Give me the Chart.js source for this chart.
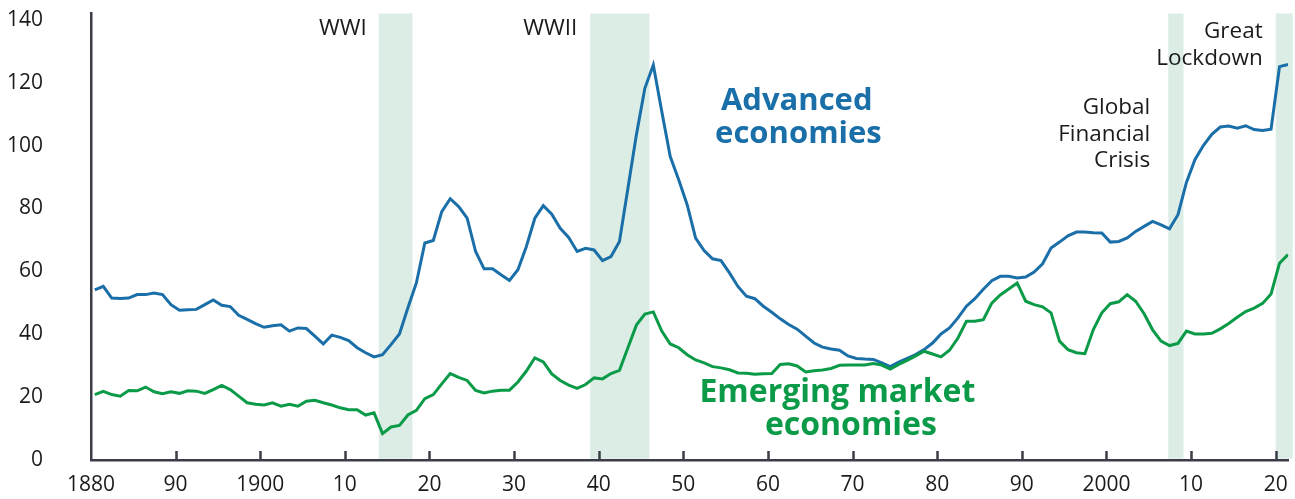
<!DOCTYPE html>
<html>
<head>
<meta charset="utf-8">
<script src="https://cdn.jsdelivr.net/npm/chart.js@4.4.1/dist/chart.umd.min.js"></script>
<style>
  body { margin: 0; background: #fff; }
  canvas { display: block; }
</style>
</head>
<body>
<canvas id="debtChart" width="1295" height="499"></canvas>
<script>
// Anos (1880-2021)
const years = [];
for (let y = 1880; y <= 2021; y++) years.push(y);

// Dívida pública, % do PIB - economias avançadas
const advanced = [
  54.1, 55.2, 51.5, 51.4, 51.5, 52.6, 52.6, 53.1, 52.6, 49.4,
  47.6, 47.8, 47.9, 49.4, 50.9, 49.2, 48.8, 46.0, 44.7, 43.4,
  42.2, 42.7, 43.0, 41.0, 42.0, 41.8, 39.4, 36.9, 39.7, 39.0,
  38.0, 35.7, 34.1, 32.8, 33.5, 36.7, 40.1, 48.4, 56.3, 69.0,
  69.8, 79.0, 83.1, 80.6, 76.9, 66.3, 60.8, 60.8, 58.9, 57.1,
  60.5, 67.9, 76.9, 80.9, 78.2, 73.7, 70.8, 66.3, 67.3, 66.8,
  63.4, 64.7, 69.5, 86.4, 103.4, 118.2, 125.6, 110.8, 96.5, 89.1,
  81.2, 70.6, 66.6, 64.0, 63.4, 59.5, 55.2, 52.1, 51.3, 48.9,
  47.0, 44.9, 43.1, 41.6, 39.4, 37.2, 35.9, 35.3, 34.9, 33.1,
  32.3, 32.1, 32.0, 30.9, 29.7, 31.1, 32.3, 33.5, 35.1, 37.2,
  40.1, 42.0, 45.2, 48.9, 51.3, 54.3, 57.0, 58.4, 58.4, 57.9,
  58.2, 59.8, 62.4, 67.4, 69.3, 71.3, 72.5, 72.5, 72.3, 72.2,
  69.3, 69.5, 70.6, 72.7, 74.3, 75.9, 74.8, 73.5, 78.0, 88.3,
  95.5, 100.0, 103.6, 105.9, 106.2, 105.5, 106.3, 105.1, 104.8, 105.2,
  125.1, 125.8
];

// Dívida pública, % do PIB - economias emergentes
const emerging = [
  20.8, 21.8, 20.8, 20.3, 22.1, 22.0, 23.2, 21.7, 21.1, 21.7,
  21.2, 22.0, 21.9, 21.2, 22.4, 23.7, 22.4, 20.3, 18.2, 17.7,
  17.5, 18.2, 17.1, 17.7, 17.1, 18.7, 19.0, 18.2, 17.5, 16.6,
  16.0, 16.0, 14.3, 15.0, 8.4, 10.5, 11.0, 14.3, 15.8, 19.5,
  20.8, 24.2, 27.5, 26.3, 25.3, 22.1, 21.3, 21.9, 22.2, 22.2,
  24.8, 28.3, 32.5, 31.2, 27.4, 25.3, 23.8, 22.8, 24.0, 26.1,
  25.8, 27.5, 28.5, 35.7, 42.9, 46.4, 47.1, 41.0, 36.9, 35.7,
  33.5, 31.8, 30.9, 29.7, 29.3, 28.7, 27.7, 27.6, 27.3, 27.4,
  27.5, 30.4, 30.6, 29.9, 28.0, 28.4, 28.6, 29.1, 30.1, 30.2,
  30.2, 30.2, 30.7, 30.2, 28.9, 30.4, 31.7, 33.1, 34.6, 33.7,
  32.8, 34.9, 38.8, 44.1, 44.1, 44.6, 49.9, 52.5, 54.4, 56.3,
  50.5, 49.4, 48.7, 46.8, 37.8, 35.1, 34.1, 33.8, 41.5, 46.8,
  49.7, 50.3, 52.6, 50.5, 46.5, 41.4, 37.8, 36.4, 37.1, 41.0,
  40.1, 40.1, 40.3, 41.7, 43.4, 45.4, 47.2, 48.3, 49.8, 52.8,
  62.6, 65.3
];

// Eixos
const xTickYears = [1880, 1890, 1900, 1910, 1920, 1930, 1940, 1950, 1960, 1970, 1980, 1990, 2000, 2010, 2020];
const xTickLabels = ['1880', '90', '1900', '10', '20', '30', '40', '50', '60', '70', '80', '90', '2000', '10', '20'];
const yTicks = [0, 20, 40, 60, 80, 100, 120, 140];

// Períodos sombreados
const shadeNames = ['WWI', 'WWII', 'Global Financial Crisis', 'Great Lockdown'];
const shadeStart = [1914, 1939, 2007.3, 2020];
const shadeEnd = [1918, 1946, 2009.1, 2022];

const BLUE = '#1a6fa9';
const GREEN = '#0b9b48';
const AXIS = '#3c3c48';
const TEXT = '#1b1b1b';
const FONT = "'Open Sans', sans-serif";

function toPoints(values) {
    return values.map((v, i) => ({ x: years[i] + 0.45, y: v }));
}

const shadePlugin = {
    id: 'shade',
    beforeDatasetsDraw(chart) {
        const { ctx, chartArea, scales } = chart;
        ctx.save();
        ctx.fillStyle = '#dcede6';
        for (let i = 0; i < shadeStart.length; i++) {
            const x1 = scales.x.getPixelForValue(shadeStart[i]);
            const x2 = scales.x.getPixelForValue(shadeEnd[i]);
            ctx.fillRect(x1, chartArea.top, x2 - x1, chartArea.bottom - chartArea.top - 1.3);
        }
        ctx.restore();
    },
    afterDraw(chart) {
        const { ctx, chartArea, scales } = chart;
        const x = scales.x;
        ctx.save();

        // marcas do eixo x (para dentro)
        ctx.strokeStyle = AXIS;
        ctx.lineWidth = 2.5;
        xTickYears.forEach(t => {
            if (t === 1880) return;
            const px = Math.round(x.getPixelForValue(t)) + 0.5;
            ctx.beginPath();
            ctx.moveTo(px, chartArea.bottom);
            ctx.lineTo(px, chartArea.bottom - 9);
            ctx.stroke();
        });

        // rótulos dos eventos
        ctx.fillStyle = TEXT;
        ctx.font = '22.5px ' + FONT;
        ctx.textAlign = 'right';
        ctx.textBaseline = 'alphabetic';
        ctx.fillText(shadeNames[0], x.getPixelForValue(shadeStart[0]) - 12, 35);
        ctx.fillText(shadeNames[1], x.getPixelForValue(shadeStart[1]) - 13, 35);
        const gx = x.getPixelForValue(shadeStart[2]) - 18;
        ctx.fillText('Global', gx, 114);
        ctx.fillText('Financial', gx, 141);
        ctx.fillText('Crisis', gx, 167);
        const lx = x.getPixelForValue(shadeStart[3]) - 13;
        ctx.fillText('Great', lx, 38);
        ctx.fillText('Lockdown', lx, 65);

        // rótulos das séries
        ctx.font = 'bold 31px ' + FONT;
        ctx.textAlign = 'center';
        ctx.fillStyle = BLUE;
        ctx.fillText('Advanced', x.getPixelForValue(1963.4), 110);
        ctx.fillText('economies', x.getPixelForValue(1963.6), 143);
        ctx.fillStyle = GREEN;
        ctx.font = 'bold 32px ' + FONT;
        ctx.fillText('Emerging market', x.getPixelForValue(1968.2), 402);
        ctx.fillText('economies', x.getPixelForValue(1969.8), 435);

        ctx.restore();
    }
};

const ctx = document.getElementById('debtChart').getContext('2d');
const debtChart = new Chart(ctx, {
    type: 'line',
    data: {
        datasets: [
            {
                label: 'Emerging market economies',
                data: toPoints(emerging),
                borderColor: GREEN,
                borderWidth: 3,
                pointRadius: 0,
                tension: 0,
                fill: false
            },
            {
                label: 'Advanced economies',
                data: toPoints(advanced),
                borderColor: BLUE,
                borderWidth: 3,
                pointRadius: 0,
                tension: 0,
                fill: false
            }
        ]
    },
    options: {
        responsive: false,
        animation: false,
        layout: {
            padding: { left: 0, right: 6.6, top: 13.5, bottom: 0 }
        },
        plugins: {
            legend: { display: false },
            tooltip: { enabled: false }
        },
        scales: {
            x: {
                type: 'linear',
                min: 1880,
                max: 2021.5,
                grid: { display: false, drawTicks: false },
                border: { display: true, color: AXIS, width: 2.5 },
                afterBuildTicks: scale => {
                    scale.ticks = xTickYears.map(v => ({ value: v }));
                },
                afterFit: scale => {
                    scale.height = 39;
                    scale.paddingLeft = 0;
                    scale.paddingRight = 0;
                },
                ticks: {
                    padding: 12,
                    maxRotation: 0,
                    autoSkip: false,
                    color: TEXT,
                    font: { family: FONT, size: 21 },
                    callback: value => xTickLabels[xTickYears.indexOf(value)]
                }
            },
            y: {
                min: 0,
                max: 142,
                grid: { display: false, drawTicks: false },
                border: { display: true, color: AXIS, width: 2.5 },
                afterBuildTicks: scale => {
                    scale.ticks = yTicks.map(v => ({ value: v }));
                },
                afterFit: scale => {
                    scale.width = 91;
                    scale.paddingTop = 0;
                    scale.paddingBottom = 0;
                },
                ticks: {
                    padding: 48,
                    color: TEXT,
                    font: { family: FONT, size: 21 }
                }
            }
        }
    },
    plugins: [shadePlugin]
});
</script>
</body>
</html>
